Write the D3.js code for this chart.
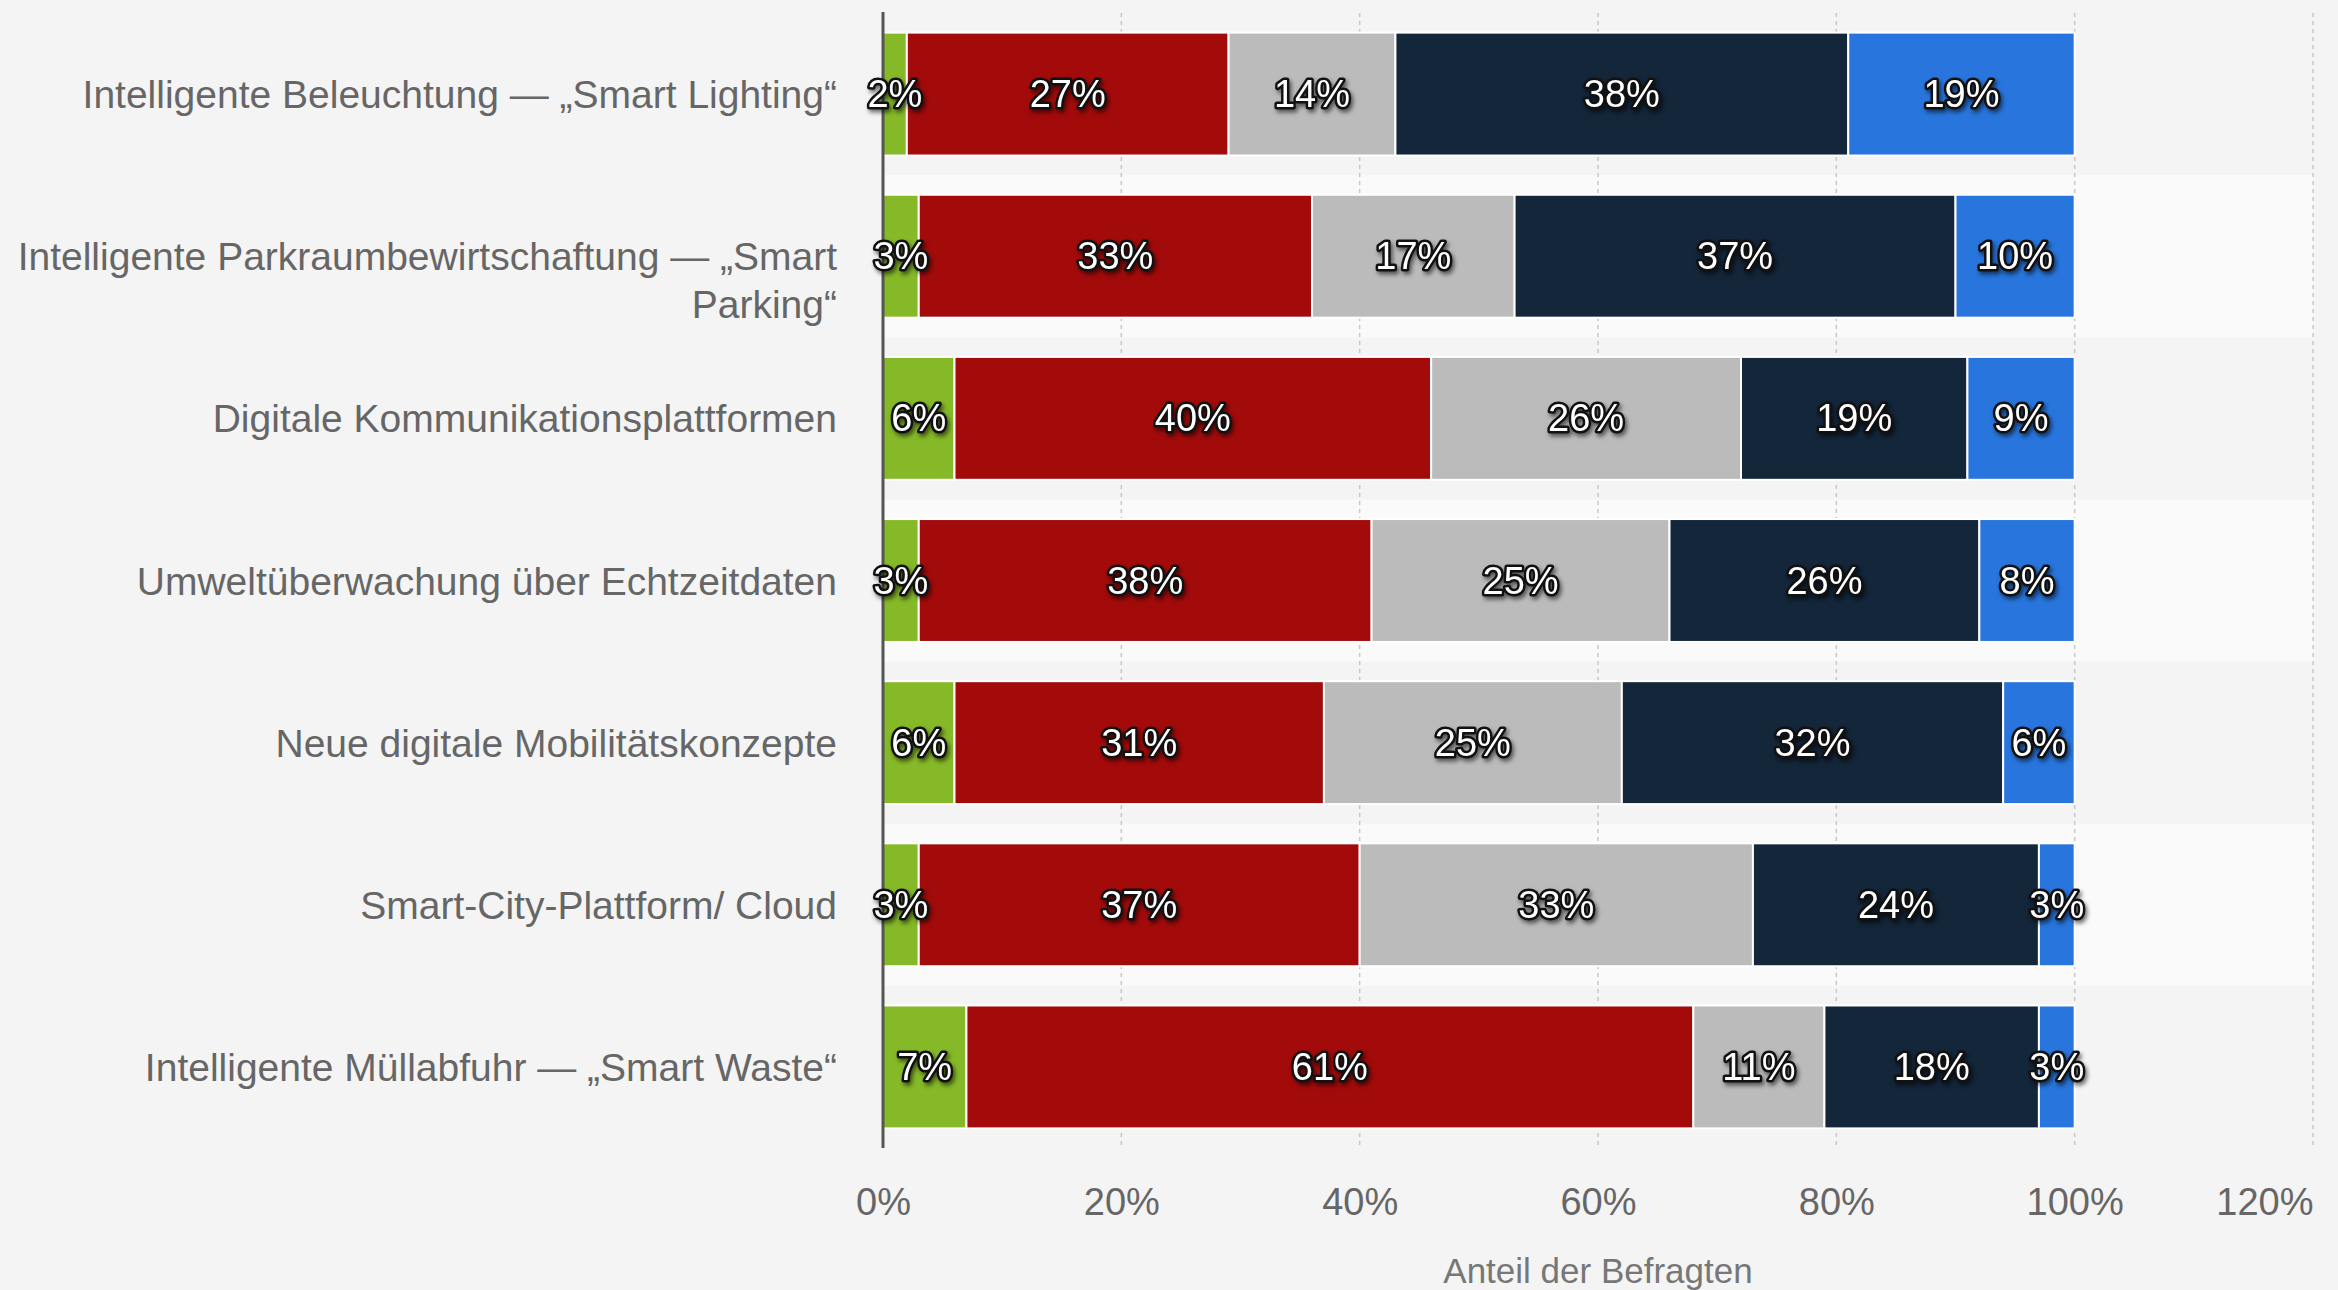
<!DOCTYPE html>
<html>
<head>
<meta charset="utf-8">
<script src="https://cdn.jsdelivr.net/npm/d3@7"></script>
<style>
  html, body { margin: 0; padding: 0; background: #f4f4f4; }
  svg { display: block; font-family: "Liberation Sans", Arial, sans-serif; }
  .val { fill: #fff; stroke: #111; stroke-width: 5px; stroke-linejoin: round; paint-order: stroke fill; filter: drop-shadow(2px 3px 2px rgba(0,0,0,0.55)); }
</style>
</head>
<body>
<script>
const categories = [
  ["Intelligente Beleuchtung — „Smart Lighting“"],
  ["Intelligente Parkraumbewirtschaftung — „Smart", "Parking“"],
  ["Digitale Kommunikationsplattformen"],
  ["Umweltüberwachung über Echtzeitdaten"],
  ["Neue digitale Mobilitätskonzepte"],
  ["Smart-City-Plattform/ Cloud"],
  ["Intelligente Müllabfuhr — „Smart Waste“"]
];
const seriesNames = ["Antwort 1", "Antwort 2", "Antwort 3", "Antwort 4", "Antwort 5"];
const series1 = [2, 3, 6, 3, 6, 3, 7];
const series2 = [27, 33, 40, 38, 31, 37, 61];
const series3 = [14, 17, 26, 25, 25, 33, 11];
const series4 = [38, 37, 19, 26, 32, 24, 18];
const series5 = [19, 10, 9, 8, 6, 3, 3];
const colors = ["#86b928", "#a30b0b", "#bbbbbb", "#13263a", "#2876dd"];
const xTicks = [0, 20, 40, 60, 80, 100, 120];
const xTitle = "Anteil der Befragten";

const W = 2338, H = 1290;
const svg = d3.select("body").append("svg").attr("width", W).attr("height", H);
svg.append("rect").attr("width", W).attr("height", H).attr("fill", "#f4f4f4");

const x = d3.scaleLinear().domain([0, 120]).range([883, 2313]);
const y = d3.scaleBand().domain(d3.range(categories.length)).range([13, 1148])
  .paddingInner(0.242).paddingOuter(0.121);
const step = y.step();

// alternating stripes
svg.append("g").selectAll("rect").data(d3.range(categories.length).filter(i => i % 2 === 1))
  .join("rect")
  .attr("x", x(0)).attr("width", x(120) - x(0))
  .attr("y", i => y(i) - y.paddingInner() * step / 2)
  .attr("height", step)
  .attr("fill", "#fafafa");

// grid
svg.append("g").selectAll("line").data(xTicks.filter(t => t > 0)).join("line")
  .attr("x1", d => x(d)).attr("x2", d => x(d))
  .attr("y1", 13).attr("y2", 1148)
  .attr("stroke", "#c8c8c8").attr("stroke-width", 1.5).attr("stroke-dasharray", "4,4");

// stack
const rows = categories.map((c, i) => ({ idx: i, s0: series1[i], s1: series2[i], s2: series3[i], s3: series4[i], s4: series5[i] }));
const stack = d3.stack().keys(["s0", "s1", "s2", "s3", "s4"]);
const layers = stack(rows);

const gBars = svg.append("g");
layers.forEach((layer, k) => {
  gBars.append("g").selectAll("rect").data(layer).join("rect")
    .attr("x", d => x(d[0]))
    .attr("width", d => Math.max(0, x(d[1]) - x(d[0])))
    .attr("y", d => y(d.data.idx))
    .attr("height", y.bandwidth())
    .attr("fill", colors[k])
    .attr("stroke", "#ffffff").attr("stroke-width", 2);
});

// axis line
svg.append("line").attr("x1", x(0)).attr("x2", x(0)).attr("y1", 12).attr("y2", 1148)
  .attr("stroke", "#555").attr("stroke-width", 3);

// value labels
const gLab = svg.append("g");
layers.forEach((layer, k) => {
  gLab.append("g").selectAll("text").data(layer).join("text")
    .attr("class", "val")
    .attr("x", d => (x(d[0]) + x(d[1])) / 2)
    .attr("y", d => y(d.data.idx) + y.bandwidth() / 2)
    .attr("text-anchor", "middle").attr("dominant-baseline", "central")
    .attr("font-size", 38)
    .text(d => (d[1] - d[0]) + "%");
});

// category labels
const gCat = svg.append("g");
categories.forEach((lines, i) => {
  const t = gCat.append("text")
    .attr("x", 837)
    .attr("y", y(i) + y.bandwidth() / 2)
    .attr("text-anchor", "end").attr("dominant-baseline", "central")
    .attr("font-size", 39).attr("fill", "#666");
  lines.forEach((ln, j) => {
    t.append("tspan").attr("x", 837).attr("dy", j === 0 ? 0 : 48).text(ln);
  });
});

// x axis tick labels
const xAxis = d3.axisBottom(x).tickValues(xTicks).tickFormat(d => d + "%").tickSize(0);
const gx = svg.append("g").attr("transform", "translate(0,1188)").call(xAxis);
gx.select(".domain").remove();
gx.selectAll("text").attr("font-size", 38).attr("fill", "#666")
  .attr("font-family", "Liberation Sans, Arial, sans-serif").attr("dy", 0).attr("dominant-baseline", "central").attr("y", 14)
  .attr("text-anchor", d => d === 120 ? "end" : "middle");

svg.append("text").attr("x", (x(0) + x(120)) / 2).attr("y", 1270)
  .attr("text-anchor", "middle").attr("dominant-baseline", "central")
  .attr("font-size", 35).attr("fill", "#777").text(xTitle);
</script>
</body>
</html>
